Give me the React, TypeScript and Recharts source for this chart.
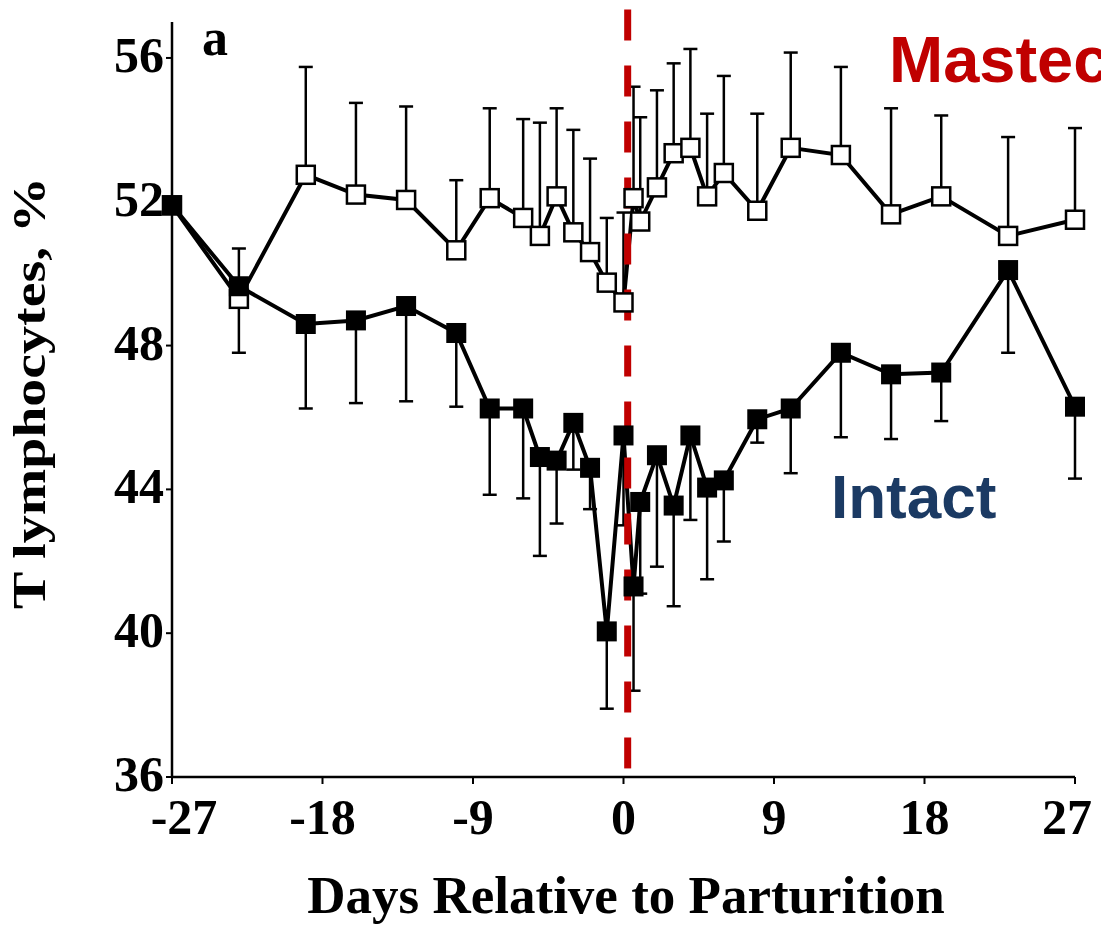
import { ComposedChart, Line, XAxis, YAxis, ErrorBar, ReferenceLine } from 'recharts';

// days relative to parturition (shared by both groups)
const days = [-27, -23, -19, -16, -13, -10, -8, -6, -5, -4, -3, -2, -1, 0, 0.6, 1, 2, 3, 4, 5, 6, 8, 10, 13, 16, 19, 23, 27];

// mastectomized cows: mean and top of the (upper-only) error bar
const mastec = [51.9, 49.3, 52.75, 52.2, 52.05, 50.65, 52.1, 51.55, 51.05, 52.15, 51.15, 50.6, 49.75, 49.2, 52.1, 51.45, 52.4, 53.35, 53.5, 52.15, 52.8, 51.75, 53.5, 53.3, 51.65, 52.15, 51.05, 51.5];
const mastecUpper = [51.9, 50.7, 55.75, 54.75, 54.65, 52.6, 54.6, 54.3, 54.2, 54.6, 54.0, 53.2, 51.55, 51.7, 55.2, 54.35, 55.1, 55.85, 56.25, 54.45, 55.5, 54.45, 56.15, 55.75, 54.6, 54.4, 53.8, 54.05];

// intact cows: mean and bottom of the (lower-only) error bar
const intact = [51.9, 49.65, 48.6, 48.7, 49.1, 48.35, 46.25, 46.25, 44.9, 44.8, 45.85, 44.6, 40.05, 45.5, 41.3, 43.65, 44.95, 43.55, 45.5, 44.05, 44.25, 45.95, 46.25, 47.8, 47.2, 47.25, 50.1, 46.3];
const intactLower = [51.9, 47.8, 46.25, 46.4, 46.45, 46.3, 43.85, 43.75, 42.15, 43.05, 44.55, 43.45, 37.9, 43.0, 38.4, 41.1, 41.85, 40.75, 43.15, 41.5, 42.55, 45.3, 44.45, 45.45, 45.4, 45.9, 47.8, 44.3];

const xTicks = [-27, -18, -9, 0, 9, 18, 27];
const yTicks = [36, 40, 44, 48, 52, 56];
const parturitionMark = 0.25;

const data = days.map((day, i) => ({
  day,
  mastec: mastec[i],
  mastecErr: [0, mastecUpper[i] - mastec[i]],
  intact: intact[i],
  intactErr: [intact[i] - intactLower[i], 0],
}));

const serif = '"Liberation Serif", "Times New Roman", serif';
const sans = '"Liberation Sans", Arial, sans-serif';

const OpenSquare = (props: any) => {
  const { cx, cy } = props;
  if (cx == null || cy == null) return null;
  return <rect x={cx - 9} y={cy - 9} width={18} height={18} fill="#fff" stroke="#000" strokeWidth={2.5} />;
};

const FilledSquare = (props: any) => {
  const { cx, cy } = props;
  if (cx == null || cy == null) return null;
  return <rect x={cx - 10} y={cy - 10} width={20} height={20} fill="#000" />;
};

// end labels sit a little inside the axis ends, as in the scan
const XTick = (props: any) => {
  const { x, y, payload } = props;
  const v = payload.value;
  const shift = v === -27 ? 12 : v === 27 ? -8 : 0;
  return (
    <text x={x + shift} y={y} dy="0.64em" textAnchor="middle" fontFamily={serif} fontWeight="bold" fontSize={50} fill="#000">
      {v}
    </text>
  );
};

const YTick = (props: any) => {
  const { x, y, payload } = props;
  return (
    <text x={x} y={y} dy="0.28em" textAnchor="end" fontFamily={serif} fontWeight="bold" fontSize={50} fill="#000">
      {payload.value}
    </text>
  );
};

export default function App() {
  return (
    <div style={{ position: 'absolute', left: 0, top: 0, width: 1101, height: 925, background: '#fff' }}>
      <ComposedChart width={1101} height={925} data={data} margin={{ top: 22, right: 26, bottom: 0, left: 0 }}>
        <XAxis
          type="number"
          dataKey="day"
          domain={[-27, 27]}
          ticks={xTicks}
          height={148}
          tick={<XTick />}
          tickSize={7}
          tickMargin={18}
          axisLine={{ stroke: '#000', strokeWidth: 2.5 }}
          tickLine={{ stroke: '#000', strokeWidth: 2 }}
        />
        <YAxis
          type="number"
          domain={[36, 57]}
          ticks={yTicks}
          width={172}
          tick={<YTick />}
          tickSize={6}
          tickMargin={2}
          axisLine={{ stroke: '#000', strokeWidth: 2.5 }}
          tickLine={{ stroke: '#000', strokeWidth: 2 }}
        />
        <Line
          dataKey="mastec"
          stroke="#000"
          strokeWidth={4}
          dot={<OpenSquare />}
          activeDot={false}
          isAnimationActive={false}
        >
          <ErrorBar dataKey="mastecErr" direction="y" width={7} stroke="#000" strokeWidth={2.5} isAnimationActive={false} />
        </Line>
        <Line
          dataKey="intact"
          stroke="#000"
          strokeWidth={4}
          dot={<FilledSquare />}
          activeDot={false}
          isAnimationActive={false}
        >
          <ErrorBar dataKey="intactErr" direction="y" width={7} stroke="#000" strokeWidth={2.5} isAnimationActive={false} />
        </Line>
        <ReferenceLine
          segment={[{ x: parturitionMark, y: 57.35 }, { x: parturitionMark, y: 36 }]}
          stroke="#C00000"
          strokeWidth={7}
          strokeDasharray="31 25"
          ifOverflow="visible"
        />
      </ComposedChart>

      <svg width={1101} height={925} style={{ position: 'absolute', left: 0, top: 0, pointerEvents: 'none' }}>
        <text x={202} y={55} fontFamily={serif} fontWeight="bold" fontSize={52} fill="#000">a</text>
        <text
          x={45}
          y={393}
          transform="rotate(-90, 45, 393)"
          textAnchor="middle"
          fontFamily={serif}
          fontWeight="bold"
          fontSize={46}
          textLength={432}
          lengthAdjust="spacingAndGlyphs"
          fill="#000"
        >
          T lymphocytes, %
        </text>
        <text x={626} y={913} textAnchor="middle" fontFamily={serif} fontWeight="bold" fontSize={53} fill="#000">
          Days Relative to Parturition
        </text>
        <text x={889} y={82} fontFamily={sans} fontWeight="bold" fontSize={65} fill="#C00000">Mastec</text>
        <text x={831} y={518} fontFamily={sans} fontWeight="bold" fontSize={62} fill="#1B3A63">Intact</text>
      </svg>
    </div>
  );
}
